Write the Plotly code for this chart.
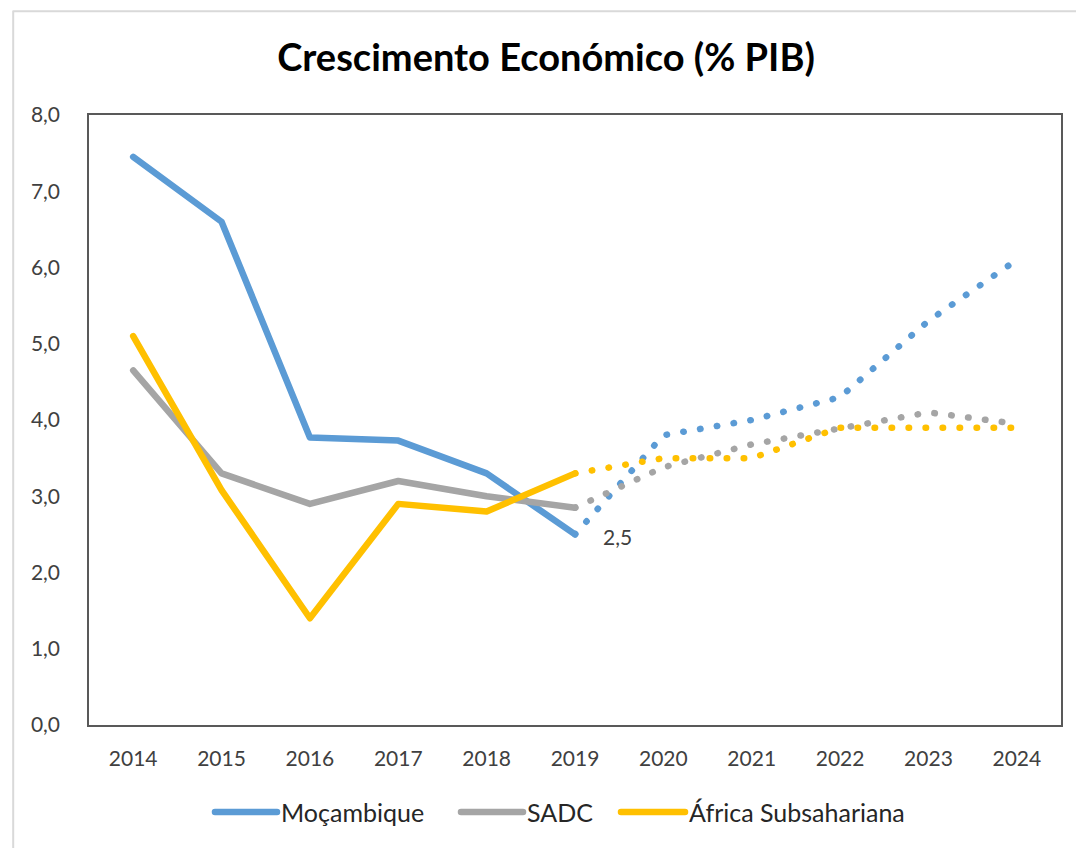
import plotly.graph_objects as go

years = ["2014", "2015", "2016", "2017", "2018", "2019", "2020", "2021", "2022", "2023", "2024"]
mocambique = [7.45, 6.6, 3.77, 3.73, 3.3, 2.5, 3.8, 4.0, 4.3, 5.3, 6.1]
sadc = [4.65, 3.3, 2.9, 3.2, 3.0, 2.85, 3.38, 3.68, 3.9, 4.1, 3.95]
africa_ss = [5.1, 3.08, 1.4, 2.9, 2.8, 3.3, 3.5, 3.5, 3.9, 3.9, 3.9]

series = [
    ("Moçambique", mocambique, "#5B9BD5"),
    ("SADC", sadc, "#A5A5A5"),
    ("África Subsahariana", africa_ss, "#FFC000"),
]
split = years.index("2019")

FONT = "Lato, Liberation Sans, sans-serif"
fig = go.Figure()
for name, vals, col in series:
    fig.add_trace(go.Scatter(
        x=years[:split + 1], y=vals[:split + 1], mode="lines", name=name,
        line=dict(color=col, width=6.5), legendgroup=name, showlegend=False))
for name, vals, col in series:
    fig.add_trace(go.Scatter(
        x=years[split:], y=vals[split:], mode="lines", name=name,
        line=dict(color=col, width=6.5, dash="0.5px,16.5px"), legendgroup=name, showlegend=False))

# data label for Moçambique 2019
fig.add_annotation(x=split, y=mocambique[split], text="2,5", showarrow=False,
                   xshift=42, yshift=-2, font=dict(size=21, color="#404040", family=FONT))

# outer chart border
fig.add_shape(type="rect", xref="paper", yref="paper", x0=-0.078, x1=1.2, y0=-0.4, y1=1.17,
              line=dict(color="#D9D9D9", width=2), fillcolor="rgba(0,0,0,0)", layer="below")

# custom legend (long line keys)
legend_pos = [(0.1296, 0.1934), (0.3827, 0.4465), (0.5473, 0.6132)]
leg_y = -0.1426
for (x0, x1), (name, vals, col) in zip(legend_pos, series):
    fig.add_shape(type="line", xref="paper", yref="paper", x0=x0, x1=x1, y0=leg_y, y1=leg_y,
                  line=dict(color=col, width=6.5))
    fig.add_annotation(xref="paper", yref="paper", x=x1 + 0.002, y=leg_y, text=name,
                       showarrow=False, xanchor="left", yanchor="middle",
                       font=dict(size=25, color="#262626", family=FONT))

fig.update_layout(
    width=1076, height=840,
    margin=dict(l=81, r=23, t=107, b=123),
    paper_bgcolor="white", plot_bgcolor="white",
    separators=",.",
    title=dict(text="<b>Crescimento Económico (% PIB)</b>", x=0.5, xanchor="center",
               y=1 - 50 / 840, yanchor="middle",
               font=dict(size=38, color="black", family=FONT)),
    font=dict(family=FONT, color="#404040", size=21),
    xaxis=dict(type="category", range=[-0.5, 10.5], showgrid=False, zeroline=False,
               showline=True, linecolor="#595959", linewidth=1.5, mirror=True,
               ticks="", tickfont=dict(size=21, color="#404040"), ticklabelstandoff=14),
    yaxis=dict(range=[0, 8], dtick=1, tickformat=".1f", showgrid=False, zeroline=False,
               showline=True, linecolor="#595959", linewidth=1.5, mirror=True,
               ticks="", tickfont=dict(size=21, color="#404040"), ticklabelstandoff=23),
    showlegend=False,
)

post = """
var gd = document.getElementById('{plot_id}');
function roundLines(){
  gd.querySelectorAll('.scatterlayer path.js-line, .shapelayer path').forEach(function(p){
    p.style.strokeLinecap = 'round';
    p.style.strokeLinejoin = 'round';
  });
}
roundLines();
gd.on('plotly_afterplot', roundLines);
"""
fig.write_html("out.html", post_script=post)
